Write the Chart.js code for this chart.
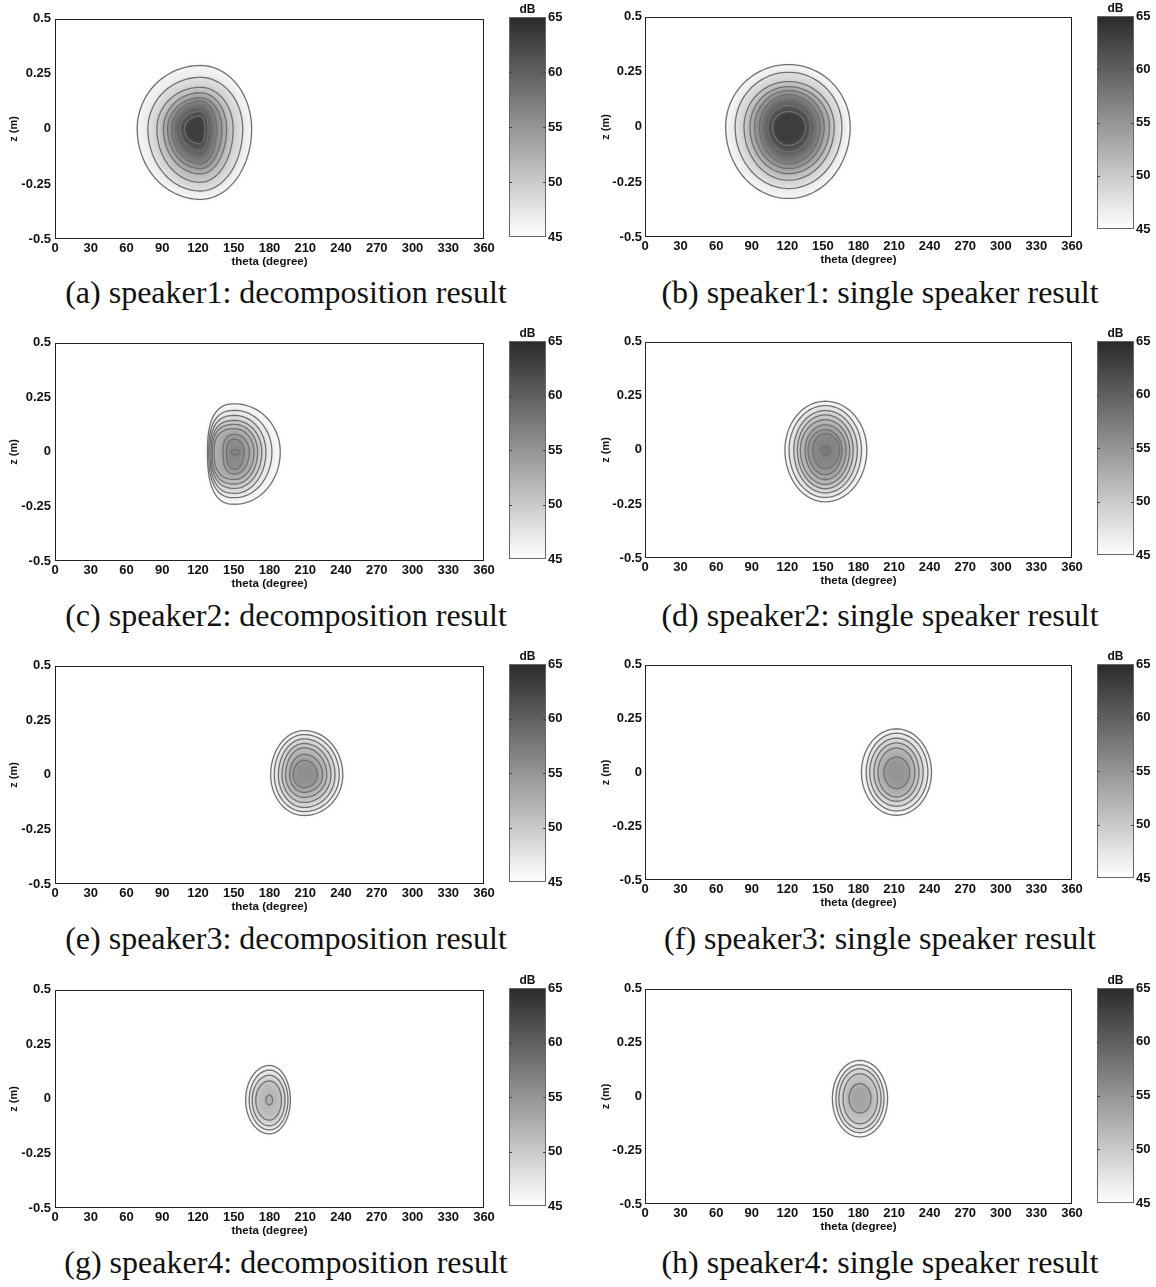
<!DOCTYPE html>
<html>
<head>
<meta charset="utf-8">
<script src="https://cdn.jsdelivr.net/npm/chart.js@4.4.1/dist/chart.umd.min.js"></script>
<style>
  html, body { margin: 0; padding: 0; background: #fff; }
  body { width: 1156px; height: 1287px; position: relative; overflow: hidden; }
  .box { position: absolute; }
  .box canvas { display: block; }
  .cap {
    position: absolute; width: 600px; text-align: center; white-space: nowrap;
    font-family: 'Liberation Serif', 'Times New Roman', serif; font-size: 32px;
    line-height: 36px; color: #111;
  }
</style>
</head>
<body>
<script>
// ---- axes ----
const thetaTicks = [0, 30, 60, 90, 120, 150, 180, 210, 240, 270, 300, 330, 360];
const zTicks = [-0.5, -0.25, 0, 0.25, 0.5];
const zTickLabels = ['-0.5', '-0.25', '0', '0.25', '0.5'];
const dbTicks = [45, 50, 55, 60, 65];
const dbMin = 45, dbMax = 65;

const captions = [
  '(a) speaker1: decomposition result', '(b) speaker1: single speaker result',
  '(c) speaker2: decomposition result', '(d) speaker2: single speaker result',
  '(e) speaker3: decomposition result', '(f) speaker3: single speaker result',
  '(g) speaker4: decomposition result', '(h) speaker4: single speaker result'
];

// ---- sound-pressure contours, outer to inner ----
// each ring: [level dB, theta at left edge, theta at right edge, z at top, z at bottom]
const peakA = [122, 0];
const ringsA = [
  [46.4, 69, 165, 0.288, -0.320], [48.7, 78, 157.5, 0.234, -0.282],
  [50.9, 85.5, 149.5, 0.189, -0.242], [53.2, 91, 144, 0.164, -0.204],
  [55.4, 94.5, 140, 0.141, -0.180], [57.6, 98, 135.5, 0.126, -0.158],
  [59.4, 101, 132, 0.104, -0.129], [61.3, 105, 128.5, 0.081, -0.099],
  [63.2, 108.5, 126, 0.059, -0.068]
];
const peakB = [121, 0];
const ringsB = [
  [46.4, 68, 173, 0.283, -0.325], [48.7, 76, 166, 0.248, -0.280],
  [50.9, 83.5, 159.5, 0.206, -0.242], [53.2, 88.5, 155.5, 0.183, -0.212],
  [55.4, 92.5, 151, 0.165, -0.189], [57.6, 96.5, 147.5, 0.146, -0.167],
  [59.4, 100, 143, 0.123, -0.139], [61.3, 103.5, 139.5, 0.097, -0.114],
  [63.2, 107.5, 135.5, 0.070, -0.084]
];
const peakC = [151, 0];
const ringsC = [
  [46, 128, 189, 0.220, -0.240], [47, 129, 182, 0.190, -0.210],
  [48.5, 130, 177, 0.167, -0.190], [50, 131, 173.5, 0.144, -0.167],
  [51.5, 132, 170, 0.126, -0.147], [53, 133.5, 167, 0.106, -0.126],
  [54.5, 141, 163, 0.080, -0.101], [56, 144, 158.5, 0.058, -0.079],
  [57.5, 148, 155, 0.010, -0.014]
];
const peakD = [152, 0];
const ringsD = [
  [46, 118, 187, 0.225, -0.240], [47.5, 121.5, 182.5, 0.205, -0.220],
  [49, 125.5, 179, 0.182, -0.199], [50.5, 128.5, 175.5, 0.162, -0.179],
  [52, 131, 172.5, 0.139, -0.159], [53.5, 135, 169.5, 0.116, -0.137],
  [55, 137.5, 166, 0.093, -0.114], [56.5, 141.5, 164, 0.075, -0.087],
  [58, 148.5, 156.5, 0.016, -0.025]
];
const peakE = [209, 0];
const ringsE = [
  [46, 181, 241.5, 0.203, -0.186], [47.5, 184, 238.5, 0.185, -0.168],
  [49, 187.5, 235, 0.165, -0.149], [50.5, 190.5, 231.5, 0.144, -0.126],
  [52, 193.5, 228, 0.124, -0.103], [53.5, 197, 224.5, 0.094, -0.080],
  [55.5, 200, 220, 0.067, -0.058]
];
const peakF = [212, 0];
const ringsF = [
  [46, 182.5, 241.5, 0.202, -0.199], [47.5, 186.5, 238.5, 0.182, -0.179],
  [49, 189.5, 234.5, 0.159, -0.157], [50.5, 193, 231, 0.137, -0.134],
  [52.5, 196.5, 227.5, 0.113, -0.114], [55, 201.5, 223, 0.071, -0.075]
];
const peakG = [180, -0.005];
const ringsG = [
  [46, 160, 197.5, 0.153, -0.160], [47.5, 163, 195.5, 0.132, -0.142],
  [49, 165.5, 193, 0.108, -0.123], [51.5, 168.5, 190, 0.082, -0.097],
  [53, 177, 182.5, 0.017, -0.027]
];
const peakH = [181, -0.01];
const ringsH = [
  [46, 158, 204.5, 0.167, -0.188], [47.5, 161, 201.5, 0.147, -0.168],
  [49, 163.5, 199, 0.128, -0.150], [51, 167, 196, 0.105, -0.127],
  [53.5, 172, 190.5, 0.059, -0.077]
];

// ---- page layout ----
const FONT = "'Liberation Sans', Arial, Helvetica, sans-serif";
const columns = [
  { canvasLeft: 0,   axisW: 55, plotRight: 484,  cbLeft: 509,  tickPad: 4, capCenter: 286 },
  { canvasLeft: 592, axisW: 53, plotRight: 1072, cbLeft: 1097, tickPad: 3, capCenter: 880 }
];
const panels = [
  { col: 0, top: 17,  bottom: 239,  cbBottom: 239,  capY: 292,  peak: peakA, rings: ringsA },
  { col: 1, top: 16,  bottom: 237,  cbBottom: 231,  capY: 292,  peak: peakB, rings: ringsB },
  { col: 0, top: 341, bottom: 561,  cbBottom: 561,  capY: 615,  peak: peakC, rings: ringsC, leftPower: 2.6 },
  { col: 1, top: 341, bottom: 558,  cbBottom: 557,  capY: 615,  peak: peakD, rings: ringsD },
  { col: 0, top: 664, bottom: 884,  cbBottom: 884,  capY: 938,  peak: peakE, rings: ringsE },
  { col: 1, top: 664, bottom: 880,  cbBottom: 880,  capY: 938,  peak: peakF, rings: ringsF },
  { col: 0, top: 988, bottom: 1208, cbBottom: 1208, capY: 1262, peak: peakG, rings: ringsG },
  { col: 1, top: 988, bottom: 1204, cbBottom: 1205, capY: 1262, peak: peakH, rings: ringsH }
];

// grey colour map of the dB scale: white at 45 dB, near black at 65 dB
function shade(db) {
  const t = Math.min(1, Math.max(0, (db - dbMin) / (dbMax - dbMin)));
  const g = Math.round(255 - t * (255 - 42));
  return 'rgb(' + g + ',' + g + ',' + g + ')';
}

function addCanvas(left, top, w, h) {
  const div = document.createElement('div');
  div.className = 'box';
  div.style.left = left + 'px'; div.style.top = top + 'px';
  div.style.width = w + 'px'; div.style.height = h + 'px';
  const c = document.createElement('canvas');
  c.width = w; c.height = h; c.style.width = w + 'px'; c.style.height = h + 'px';
  div.appendChild(c);
  document.body.appendChild(div);
  return c;
}

// one quarter of a (super)ellipse between angles a0 and a1
function quarter(ctx, cx, cy, rx, ry, a0, a1, n, first) {
  const steps = 30;
  for (let k = 0; k <= steps; k++) {
    const a = a0 + (a1 - a0) * k / steps;
    const c = Math.cos(a), s = Math.sin(a);
    const x = cx + rx * Math.sign(c) * Math.pow(Math.abs(c), 2 / n);
    const y = cy + ry * Math.sign(s) * Math.pow(Math.abs(s), 2 / n);
    if (first && k === 0) ctx.moveTo(x, y); else ctx.lineTo(x, y);
  }
}

function ringPath(ctx, xs, ys, peak, ring, leftPower) {
  const cx = xs.getPixelForValue(peak[0]);
  const cy = ys.getPixelForValue(peak[1]);
  const xl = xs.getPixelForValue(ring[1]), xr = xs.getPixelForValue(ring[2]);
  const yt = ys.getPixelForValue(ring[3]), yb = ys.getPixelForValue(ring[4]);
  const rR = xr - cx, rL = cx - xl, rT = cy - yt, rB = yb - cy;
  const P = Math.PI;
  ctx.beginPath();
  quarter(ctx, cx, cy, rR, rT, -P / 2, 0, 2, true);
  quarter(ctx, cx, cy, rR, rB, 0, P / 2, 2, false);
  quarter(ctx, cx, cy, rL, rB, P / 2, P, leftPower, false);
  quarter(ctx, cx, cy, rL, rT, P, 1.5 * P, leftPower, false);
  ctx.closePath();
}

function contourPlugin(panel) {
  return {
    id: 'contours',
    beforeDatasetsDraw(chart) {
      const { ctx, chartArea: a } = chart;
      const xs = chart.scales.x, ys = chart.scales.y;
      const lp = panel.leftPower || 2;
      ctx.save();
      ctx.beginPath(); ctx.rect(a.left, a.top, a.right - a.left, a.bottom - a.top); ctx.clip();
      // softly shaded level bands
      ctx.filter = 'blur(2.5px)';
      panel.rings.forEach(r => {
        ringPath(ctx, xs, ys, panel.peak, r, lp);
        ctx.fillStyle = shade(r[0]);
        ctx.fill();
      });
      ctx.filter = 'none';
      // contour lines
      ctx.strokeStyle = '#707070';
      ctx.lineWidth = 1.3;
      panel.rings.forEach(r => {
        ringPath(ctx, xs, ys, panel.peak, r, lp);
        ctx.stroke();
      });
      ctx.restore();
    },
    afterDraw(chart) {
      const { ctx, chartArea: a } = chart;
      ctx.save();
      ctx.strokeStyle = '#222'; ctx.lineWidth = 1;
      ctx.strokeRect(Math.round(a.left) + 0.5, Math.round(a.top) + 0.5,
        Math.round(a.right - a.left) - 1, Math.round(a.bottom - a.top) - 1);
      ctx.restore();
    }
  };
}

const colorbarPlugin = {
  id: 'colorbar',
  beforeDatasetsDraw(chart) {
    const { ctx, chartArea: a } = chart;
    const ys = chart.scales.y;
    const y0 = ys.getPixelForValue(dbMin), y1 = ys.getPixelForValue(dbMax);
    const g = ctx.createLinearGradient(0, y0, 0, y1);
    for (let v = dbMin; v <= dbMax; v += 1) g.addColorStop((v - dbMin) / (dbMax - dbMin), shade(v));
    ctx.save();
    ctx.fillStyle = g;
    ctx.fillRect(a.left, y1, a.right - a.left, y0 - y1);
    ctx.strokeStyle = '#666'; ctx.lineWidth = 1;
    ctx.strokeRect(a.left + 0.5, Math.round(y1) + 0.5, a.right - a.left - 1, Math.round(y0 - y1) - 1);
    ctx.strokeStyle = '#444';
    dbTicks.slice(1, -1).forEach(v => {
      const y = Math.round(ys.getPixelForValue(v)) + 0.5;
      ctx.beginPath();
      ctx.moveTo(a.left, y); ctx.lineTo(a.left + 3, y);
      ctx.moveTo(a.right - 3, y); ctx.lineTo(a.right, y);
      ctx.stroke();
    });
    ctx.fillStyle = '#111';
    ctx.font = 'bold 12px ' + FONT;
    ctx.textAlign = 'center'; ctx.textBaseline = 'middle';
    ctx.fillText('dB', (a.left + a.right) / 2, y1 - 7);
    ctx.restore();
  }
};

panels.forEach((p, i) => {
  const col = columns[p.col];
  const plotH = p.bottom - p.top;
  const W = 500, padTop = 10, xAxisH = 30;
  const canvas = addCanvas(col.canvasLeft, p.top - padTop, W, padTop + plotH + xAxisH);
  new Chart(canvas, {
    type: 'scatter',
    data: { datasets: [] },
    options: {
      responsive: false, animation: false, devicePixelRatio: 1, events: [],
      layout: { padding: { top: padTop, right: col.canvasLeft + W - col.plotRight, bottom: 0, left: 0 } },
      plugins: { legend: { display: false }, tooltip: { enabled: false } },
      scales: {
        x: {
          type: 'linear', min: 0, max: 360,
          afterBuildTicks: s => { s.ticks = thetaTicks.map(v => ({ value: v })); },
          afterFit: s => { s.height = xAxisH; },
          grid: { display: false, drawTicks: false }, border: { display: false },
          ticks: { autoSkip: false, maxRotation: 0, minRotation: 0, padding: 2, color: '#111',
                   font: { family: FONT, size: 13, weight: 'bold' }, callback: v => String(v) },
          title: { display: true, text: 'theta (degree)', color: '#111', padding: 0,
                   font: { family: FONT, size: 11.5, weight: 'bold' } }
        },
        y: {
          type: 'linear', min: -0.5, max: 0.5,
          afterBuildTicks: s => { s.ticks = zTicks.map(v => ({ value: v })); },
          afterFit: s => { s.width = col.axisW; },
          grid: { display: false, drawTicks: false }, border: { display: false },
          ticks: { autoSkip: false, padding: col.tickPad, color: '#111',
                   font: { family: FONT, size: 13, weight: 'bold' },
                   callback: v => zTickLabels[zTicks.indexOf(v)] },
          title: { display: true, text: 'z (m)', color: '#111', padding: { top: 7.5, bottom: 0 },
                   font: { family: FONT, size: 11, weight: 'bold' } }
        }
      }
    },
    plugins: [contourPlugin(p)]
  });

  // colour bar
  const cbTopPad = 16, cbBotPad = 8, cbW = 60;
  const cbH = p.cbBottom - p.top;
  const cb = addCanvas(col.cbLeft, p.top - cbTopPad, cbW, cbTopPad + cbH + cbBotPad);
  new Chart(cb, {
    type: 'scatter',
    data: { datasets: [] },
    options: {
      responsive: false, animation: false, devicePixelRatio: 1, events: [],
      layout: { padding: { top: cbTopPad, bottom: cbBotPad, left: 0, right: 0 } },
      plugins: { legend: { display: false }, tooltip: { enabled: false } },
      scales: {
        x: { display: false, min: 0, max: 1 },
        y: {
          position: 'right', min: dbMin, max: dbMax,
          afterBuildTicks: s => { s.ticks = dbTicks.map(v => ({ value: v })); },
          afterFit: s => { s.width = 23; },
          grid: { display: false, drawTicks: false }, border: { display: false },
          ticks: { autoSkip: false, padding: 2, color: '#111',
                   font: { family: FONT, size: 13, weight: 'bold' }, callback: v => String(v) }
        }
      }
    },
    plugins: [colorbarPlugin]
  });

  // caption
  const cap = document.createElement('div');
  cap.className = 'cap';
  cap.textContent = captions[i];
  cap.style.left = (col.capCenter - 300) + 'px';
  cap.style.top = (p.capY - 18) + 'px';
  document.body.appendChild(cap);
});
</script>
</body>
</html>
